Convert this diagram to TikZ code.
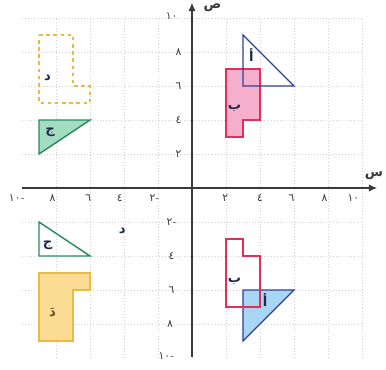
\documentclass[tikz,border=0pt]{standalone}
\usepackage{fontspec}
\newfontfamily\ar[Script=Arabic]{DejaVu Sans}
\usetikzlibrary{arrows.meta}
\definecolor{axisc}{HTML}{3A3A3A}
\definecolor{gridc}{HTML}{D2D2D2}
\definecolor{blueline}{HTML}{2E3F9E}
\definecolor{bluefill}{HTML}{A9D6F2}
\definecolor{redline}{HTML}{E03058}
\definecolor{pinkfill}{HTML}{F5AFCD}
\definecolor{greenline}{HTML}{2A8A5E}
\definecolor{greenfill}{HTML}{A3DCC0}
\definecolor{yelline}{HTML}{E8BA48}
\definecolor{yelfill}{HTML}{FBDC93}
\definecolor{labc}{HTML}{1E2A4A}
\definecolor{brownc}{HTML}{6B4A1E}
\newcommand{\mdash}{\hbox{\rmfamily\kern0.5pt-}}
\tikzset{
  num/.style={font=\ar\fontsize{9}{10}\selectfont, text=axisc, inner sep=0pt},
  shlab/.style={font=\ar\fontsize{11}{12}\selectfont\bfseries, text=labc, inner sep=0pt},
  shapeline/.style={line width=1pt, line join=miter},
}
\begin{document}
\begin{tikzpicture}[x=0.5cm,y=0.5cm]
\useasboundingbox (-11.294,-10.706) rectangle (11.412,11.059);
% grid
\draw[gridc, dotted, line width=0.6pt] (-10,-10) grid (10,10);
% shapes - top right
\draw[shapeline, redline, fill=pinkfill] (2,7) -- (4,7) -- (4,4) -- (3,4) -- (3,3) -- (2,3) -- cycle;
\draw[shapeline, blueline] (3,9) -- (3,6) -- (6,6) -- cycle;
% bottom right
\draw[shapeline, blueline, fill=bluefill] (3,-6) -- (6,-6) -- (3,-9) -- cycle;
\draw[shapeline, redline] (2,-3) -- (3,-3) -- (3,-4) -- (4,-4) -- (4,-7) -- (2,-7) -- cycle;
% top left
\draw[shapeline, yelline, dashed, line width=0.9pt] (-9,9) -- (-7,9) -- (-7,6) -- (-6,6) -- (-6,5) -- (-9,5) -- cycle;
\draw[shapeline, greenline, fill=greenfill, line width=1.2pt] (-9,4) -- (-6,4) -- (-9,2) -- cycle;
% bottom left
\draw[shapeline, greenline, line width=1.2pt] (-9,-2) -- (-9,-4) -- (-6,-4) -- cycle;
\draw[shapeline, yelline, fill=yelfill] (-9,-5) -- (-6,-5) -- (-6,-6) -- (-7,-6) -- (-7,-9) -- (-9,-9) -- cycle;
% axes
\coordinate (xl) at (-10,0);
\coordinate (xr) at (10.9,0);
\coordinate (yb) at (0,-9.95);
\coordinate (yt) at (0,10.9);
\draw[axisc, line width=1pt, -{Latex[length=7pt,width=6pt]}] (xl) -- (xr);
\draw[axisc, line width=1pt, -{Latex[length=7pt,width=6pt]}] (yb) -- (yt);
\node[shlab, text=axisc] (sx) at (10.7,0.7) {س};
\node[shlab, text=axisc] (sy) at (1.2,10.6) {ص};
% y labels
\node[num] (y10) at (-1.2,10.1) {\ar ١٠};
\node[num] (y8) at (-0.8,8) {\ar ٨};
\node[num] (y6) at (-0.8,6) {\ar ٦};
\node[num] (y4) at (-0.8,4) {\ar ٤};
\node[num] (y2) at (-0.8,2) {\ar ٢};
\node[num] (ym2) at (-1.2,-2) {{\ar ٢}\mdash};
\node[num] (ym4) at (-1.2,-4) {\ar ٤};
\node[num] (ym6) at (-1.2,-6) {\ar ٦};
\node[num] (ym8) at (-1.3,-8) {\ar ٨};
\node[num] (ym10) at (-1.5,-9.9) {{\ar ١٠}\mdash};
% x labels
\node[num] (x2) at (1.95,-0.6) {\ar ٢};
\node[num] (x4) at (4,-0.6) {\ar ٤};
\node[num] (x6) at (5.85,-0.6) {\ar ٦};
\node[num] (x8) at (7.8,-0.6) {\ar ٨};
\node[num] (x10) at (9.5,-0.6) {\ar ١٠};
\node[num] (xm2) at (-2.2,-0.6) {{\ar ٢}\mdash};
\node[num] (xm4) at (-4.25,-0.6) {\ar ٤};
\node[num] (xm6) at (-6.1,-0.6) {\ar ٦};
\node[num] (xm8) at (-8.2,-0.6) {\ar ٨};
\node[num] (xm10) at (-10.3,-0.6) {{\ar ١٠}\mdash};
% shape labels
\node[shlab] (la1) at (3.5,7.8) {أ};
\node[shlab] (lb1) at (2.5,4.7) {ب};
\node[shlab] (lb2) at (2.5,-5.5) {ب};
\node[shlab] (la2) at (4.3,-6.6) {أ};
\node[shlab] (ld1) at (-8.5,6.5) {د};
\node[shlab] (lj1) at (-8.35,3.3) {ج};
\node[shlab] (lj2) at (-8.5,-3.35) {ج};
\node[shlab, text=brownc] (ld2) at (-8.2,-7.3) {دَ};
\node[shlab] (ld3) at (-4.1,-2.5) {د};
\end{tikzpicture}
\end{document}
